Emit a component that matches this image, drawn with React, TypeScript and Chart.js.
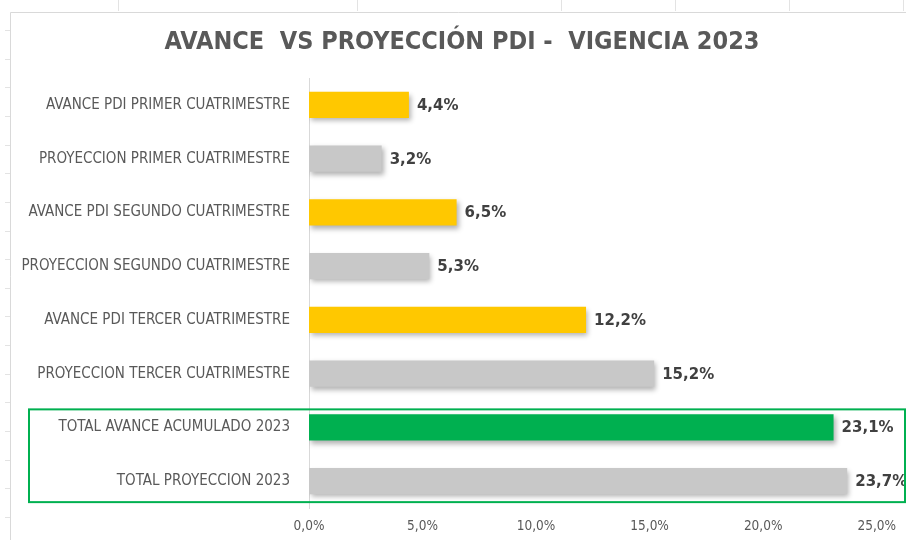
import React, { useEffect, useRef } from "react";
import { Chart, registerables } from "chart.js";

Chart.register(...registerables);

const categories = [
  "AVANCE PDI PRIMER CUATRIMESTRE",
  "PROYECCION PRIMER CUATRIMESTRE",
  "AVANCE PDI SEGUNDO CUATRIMESTRE",
  "PROYECCION SEGUNDO CUATRIMESTRE",
  "AVANCE PDI TERCER CUATRIMESTRE",
  "PROYECCION TERCER CUATRIMESTRE",
  "TOTAL AVANCE ACUMULADO 2023",
  "TOTAL PROYECCION 2023",
];
const values = [4.4, 3.2, 6.5, 5.3, 12.2, 15.2, 23.1, 23.7];
const barColors = ["#FFC800", "#C8C8C8", "#FFC800", "#C8C8C8", "#FFC800", "#C8C8C8", "#00B050", "#C8C8C8"];
const xTicks = [0, 5, 10, 15, 20, 25];
const title = "AVANCE  VS PROYECCIÓN PDI -  VIGENCIA 2023";
const highlighted = [6, 7];

const COND = '"DejaVu Sans Condensed", "DejaVu Sans", sans-serif';
const fmt = (v: number) => v.toFixed(1).replace(".", ",") + "%";

const bgPlugin = {
  id: "bg",
  beforeDraw(chart: any) {
    const ctx = chart.ctx;
    ctx.save();
    ctx.fillStyle = "#FFFFFF";
    ctx.fillRect(0, 0, chart.width, chart.height);
    // sheet gridline stubs
    ctx.strokeStyle = "#E3E3E3";
    ctx.lineWidth = 1;
    [118, 357, 561, 675, 789, 903].forEach((x) => {
      ctx.beginPath();
      ctx.moveTo(x + 0.5, 0);
      ctx.lineTo(x + 0.5, 11);
      ctx.stroke();
    });
    for (let y = 30; y < chart.height; y += 28.65) {
      ctx.beginPath();
      ctx.moveTo(5, Math.round(y) + 0.5);
      ctx.lineTo(10, Math.round(y) + 0.5);
      ctx.stroke();
    }
    // chart border
    ctx.strokeStyle = "#D9D9D9";
    ctx.beginPath();
    ctx.moveTo(10.5, chart.height);
    ctx.lineTo(10.5, 12.5);
    ctx.lineTo(chart.width, 12.5);
    ctx.stroke();
    // title
    ctx.fillStyle = "#595959";
    ctx.font = `bold 25px ${COND}`;
    ctx.textAlign = "center";
    ctx.textBaseline = "middle";
    ctx.fillText(title, 462, 42);
    ctx.restore();
  },
};

const shadowPlugin = {
  id: "shadow",
  beforeDatasetDraw(chart: any) {
    const ctx = chart.ctx;
    ctx.save();
    ctx.shadowColor = "rgba(0,0,0,0.3)";
    ctx.shadowBlur = 5;
    ctx.shadowOffsetX = 2;
    ctx.shadowOffsetY = 3;
  },
  afterDatasetDraw(chart: any) {
    chart.ctx.restore();
  },
};

const labelPlugin = {
  id: "labels",
  afterDatasetsDraw(chart: any) {
    const ctx = chart.ctx;
    const meta = chart.getDatasetMeta(0);
    ctx.save();
    ctx.fillStyle = "#404040";
    ctx.font = `bold 15px "DejaVu Sans", sans-serif`;
    ctx.textAlign = "left";
    ctx.textBaseline = "middle";
    meta.data.forEach((bar: any, i: number) => {
      ctx.fillText(fmt(values[i]), bar.x + 8, bar.y + 1);
    });
    ctx.restore();
  },
};

const boxPlugin = {
  id: "box",
  afterDraw(chart: any) {
    const ctx = chart.ctx;
    const y = chart.scales.y;
    const top = y.getPixelForValue(highlighted[0]) - 18;
    const bottom = y.getPixelForValue(highlighted[highlighted.length - 1]) + 21;
    ctx.save();
    ctx.strokeStyle = "#00B050";
    ctx.lineWidth = 2;
    ctx.strokeRect(29, top, 876, bottom - top);
    ctx.restore();
  },
};

export default function App() {
  const ref = useRef<HTMLCanvasElement>(null);
  useEffect(() => {
    if (!ref.current) return;
    const chart = new Chart(ref.current, {
      type: "bar",
      data: {
        labels: categories,
        datasets: [
          {
            data: values,
            backgroundColor: barColors,
            borderWidth: 0,
            barPercentage: 0.49,
            categoryPercentage: 1,
          },
        ],
      },
      options: {
        indexAxis: "y",
        responsive: false,
        animation: false,
        devicePixelRatio: 1,
        layout: { padding: { left: 0, right: 26, top: 78, bottom: 0 } },
        plugins: { legend: { display: false }, tooltip: { enabled: false }, title: { display: false } },
        scales: {
          x: {
            min: 0,
            max: 25,
            afterFit: (s: any) => { s.height = 32; },
            afterBuildTicks: (s: any) => { s.ticks = xTicks.map((v) => ({ value: v })); },
            grid: { display: false, drawTicks: false },
            border: { display: false },
            ticks: {
              padding: 10,
              color: "#595959",
              font: { family: COND, size: 13.5 },
              callback: (v: any) => fmt(Number(v)),
            },
          },
          y: {
            afterFit: (s: any) => { s.width = 309; },
            grid: { display: false, drawTicks: false },
            border: { display: true, color: "#D9D9D9", width: 1 },
            ticks: {
              padding: 19,
              color: "#595959",
              font: { family: COND, size: 15 },
            },
          },
        },
      },
      plugins: [bgPlugin, shadowPlugin, labelPlugin, boxPlugin],
    });
    return () => chart.destroy();
  }, []);
  return (
    <div style={{ position: "fixed", left: 0, top: 0, width: 906, height: 540, background: "#fff" }}>
      <canvas ref={ref} width={906} height={540} style={{ display: "block" }} />
    </div>
  );
}
